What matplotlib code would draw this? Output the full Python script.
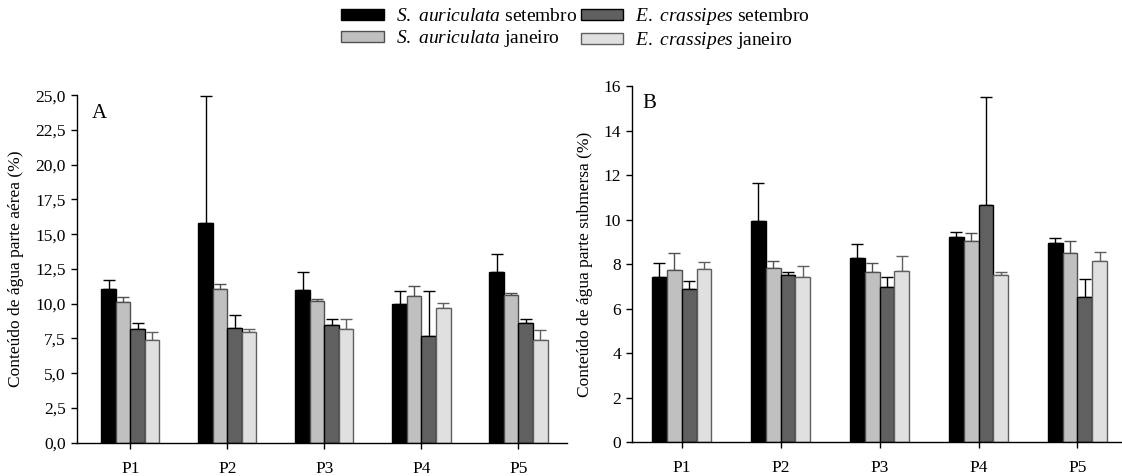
import numpy as np
import matplotlib
matplotlib.use('Agg')
import matplotlib.pyplot as plt
from matplotlib.ticker import FuncFormatter

plt.rcParams['font.family'] = 'Liberation Serif'
plt.rcParams['mathtext.fontset'] = 'custom'
plt.rcParams['mathtext.rm'] = 'Liberation Serif'
plt.rcParams['mathtext.it'] = 'Liberation Serif:italic'

#%% data
sites = ['P1', 'P2', 'P3', 'P4', 'P5']
series = [r'$\it{S.}$ $\it{auriculata}$ setembro', r'$\it{S.}$ $\it{auriculata}$ janeiro',
          r'$\it{E.}$ $\it{crassipes}$ setembro', r'$\it{E.}$ $\it{crassipes}$ janeiro']

# A: parte aerea (mean, upper error)
aerea_s_set = [11.03, 15.77, 11.00, 9.95, 12.25]
aerea_s_set_err = [0.67, 9.18, 1.25, 0.93, 1.36]
aerea_s_jan = [10.09, 11.07, 10.21, 10.55, 10.64]
aerea_s_jan_err = [0.41, 0.34, 0.14, 0.74, 0.10]
aerea_e_set = [8.15, 8.25, 8.46, 7.67, 8.60]
aerea_e_set_err = [0.46, 0.91, 0.46, 3.21, 0.27]
aerea_e_jan = [7.41, 7.98, 8.20, 9.71, 7.38]
aerea_e_jan_err = [0.55, 0.19, 0.72, 0.33, 0.70]

# B: parte submersa
subm_s_set = [7.44, 9.96, 8.28, 9.24, 8.97]
subm_s_set_err = [0.60, 1.67, 0.64, 0.20, 0.22]
subm_s_jan = [7.75, 7.83, 7.65, 9.03, 8.49]
subm_s_jan_err = [0.74, 0.33, 0.42, 0.36, 0.54]
subm_e_set = [6.87, 7.50, 6.96, 10.65, 6.53]
subm_e_set_err = [0.39, 0.15, 0.48, 4.87, 0.80]
subm_e_jan = [7.80, 7.44, 7.68, 7.51, 8.14]
subm_e_jan_err = [0.31, 0.49, 0.69, 0.12, 0.42]

#%% style
face = ['#000000', '#c0c0c0', '#606060', '#e0e0e0']
edge = ['#000000', '#505050', '#000000', '#606060']
ecol = ['#000000', '#505050', '#000000', '#606060']
width = 0.15
fs = 12.5

fig = plt.figure(figsize=(11.22, 4.76), dpi=100)
axA = fig.add_axes([0.0686, 0.070, 0.4367, 0.730])
axB = fig.add_axes([0.5635, 0.071, 0.4365, 0.748])

def draw(ax, vals, errs, ylim, yticks, fmt, ylabel, letter, lpos):
    x = np.arange(len(sites))
    bars = []
    for i in range(4):
        pos = x + (i - 1.5) * width
        b = ax.bar(pos, vals[i], width, color=face[i], edgecolor=edge[i],
                   linewidth=1.0, label=series[i], zorder=2)
        ax.errorbar(pos, vals[i], yerr=[np.zeros(len(sites)), errs[i]], fmt='none',
                    ecolor=ecol[i], elinewidth=1.0, capsize=4.3, capthick=1.0, zorder=1)
        bars.append(b)
    ax.set_ylim(*ylim)
    ax.set_yticks(yticks)
    ax.yaxis.set_major_formatter(FuncFormatter(fmt))
    ax.set_xticks(x)
    ax.set_xticklabels(sites)
    for s in ['top', 'right']:
        ax.spines[s].set_visible(False)
    for s in ['left', 'bottom']:
        ax.spines[s].set_linewidth(1.0)
    ax.tick_params(axis='both', direction='out', length=4, width=1.0, labelsize=fs)
    ax.tick_params(axis='x', pad=9)
    ax.tick_params(axis='y', pad=4)
    ax.set_ylabel(ylabel, fontsize=fs, labelpad=8)
    ax.text(lpos[0], lpos[1], letter, transform=ax.transAxes, fontsize=15, va='top', ha='left')
    return bars

bars = draw(axA, [aerea_s_set, aerea_s_jan, aerea_e_set, aerea_e_jan],
            [aerea_s_set_err, aerea_s_jan_err, aerea_e_set_err, aerea_e_jan_err],
            (0, 25), np.arange(0, 25.1, 2.5), lambda v, p: ('%.1f' % v).replace('.', ','),
            'Conteúdo de água parte aérea (%)', 'A', (0.03, 0.975))
axA.set_xlim(-0.55, 4.5)

draw(axB, [subm_s_set, subm_s_jan, subm_e_set, subm_e_jan],
     [subm_s_set_err, subm_s_jan_err, subm_e_set_err, subm_e_jan_err],
     (0, 16), np.arange(0, 16.1, 2), lambda v, p: '%d' % v,
     'Conteúdo de água parte submersa (%)', 'B', (0.02, 0.977))
axB.set_xlim(-0.5, 4.45)

fig.legend(handles=bars, loc='upper center', bbox_to_anchor=(0.513, 1.015), ncol=2,
           frameon=False, fontsize=14, handlelength=2.2, handleheight=0.5,
           handletextpad=0.6, columnspacing=0.2, labelspacing=0.15, borderpad=0.2)

plt.savefig('out.png', dpi=100)
